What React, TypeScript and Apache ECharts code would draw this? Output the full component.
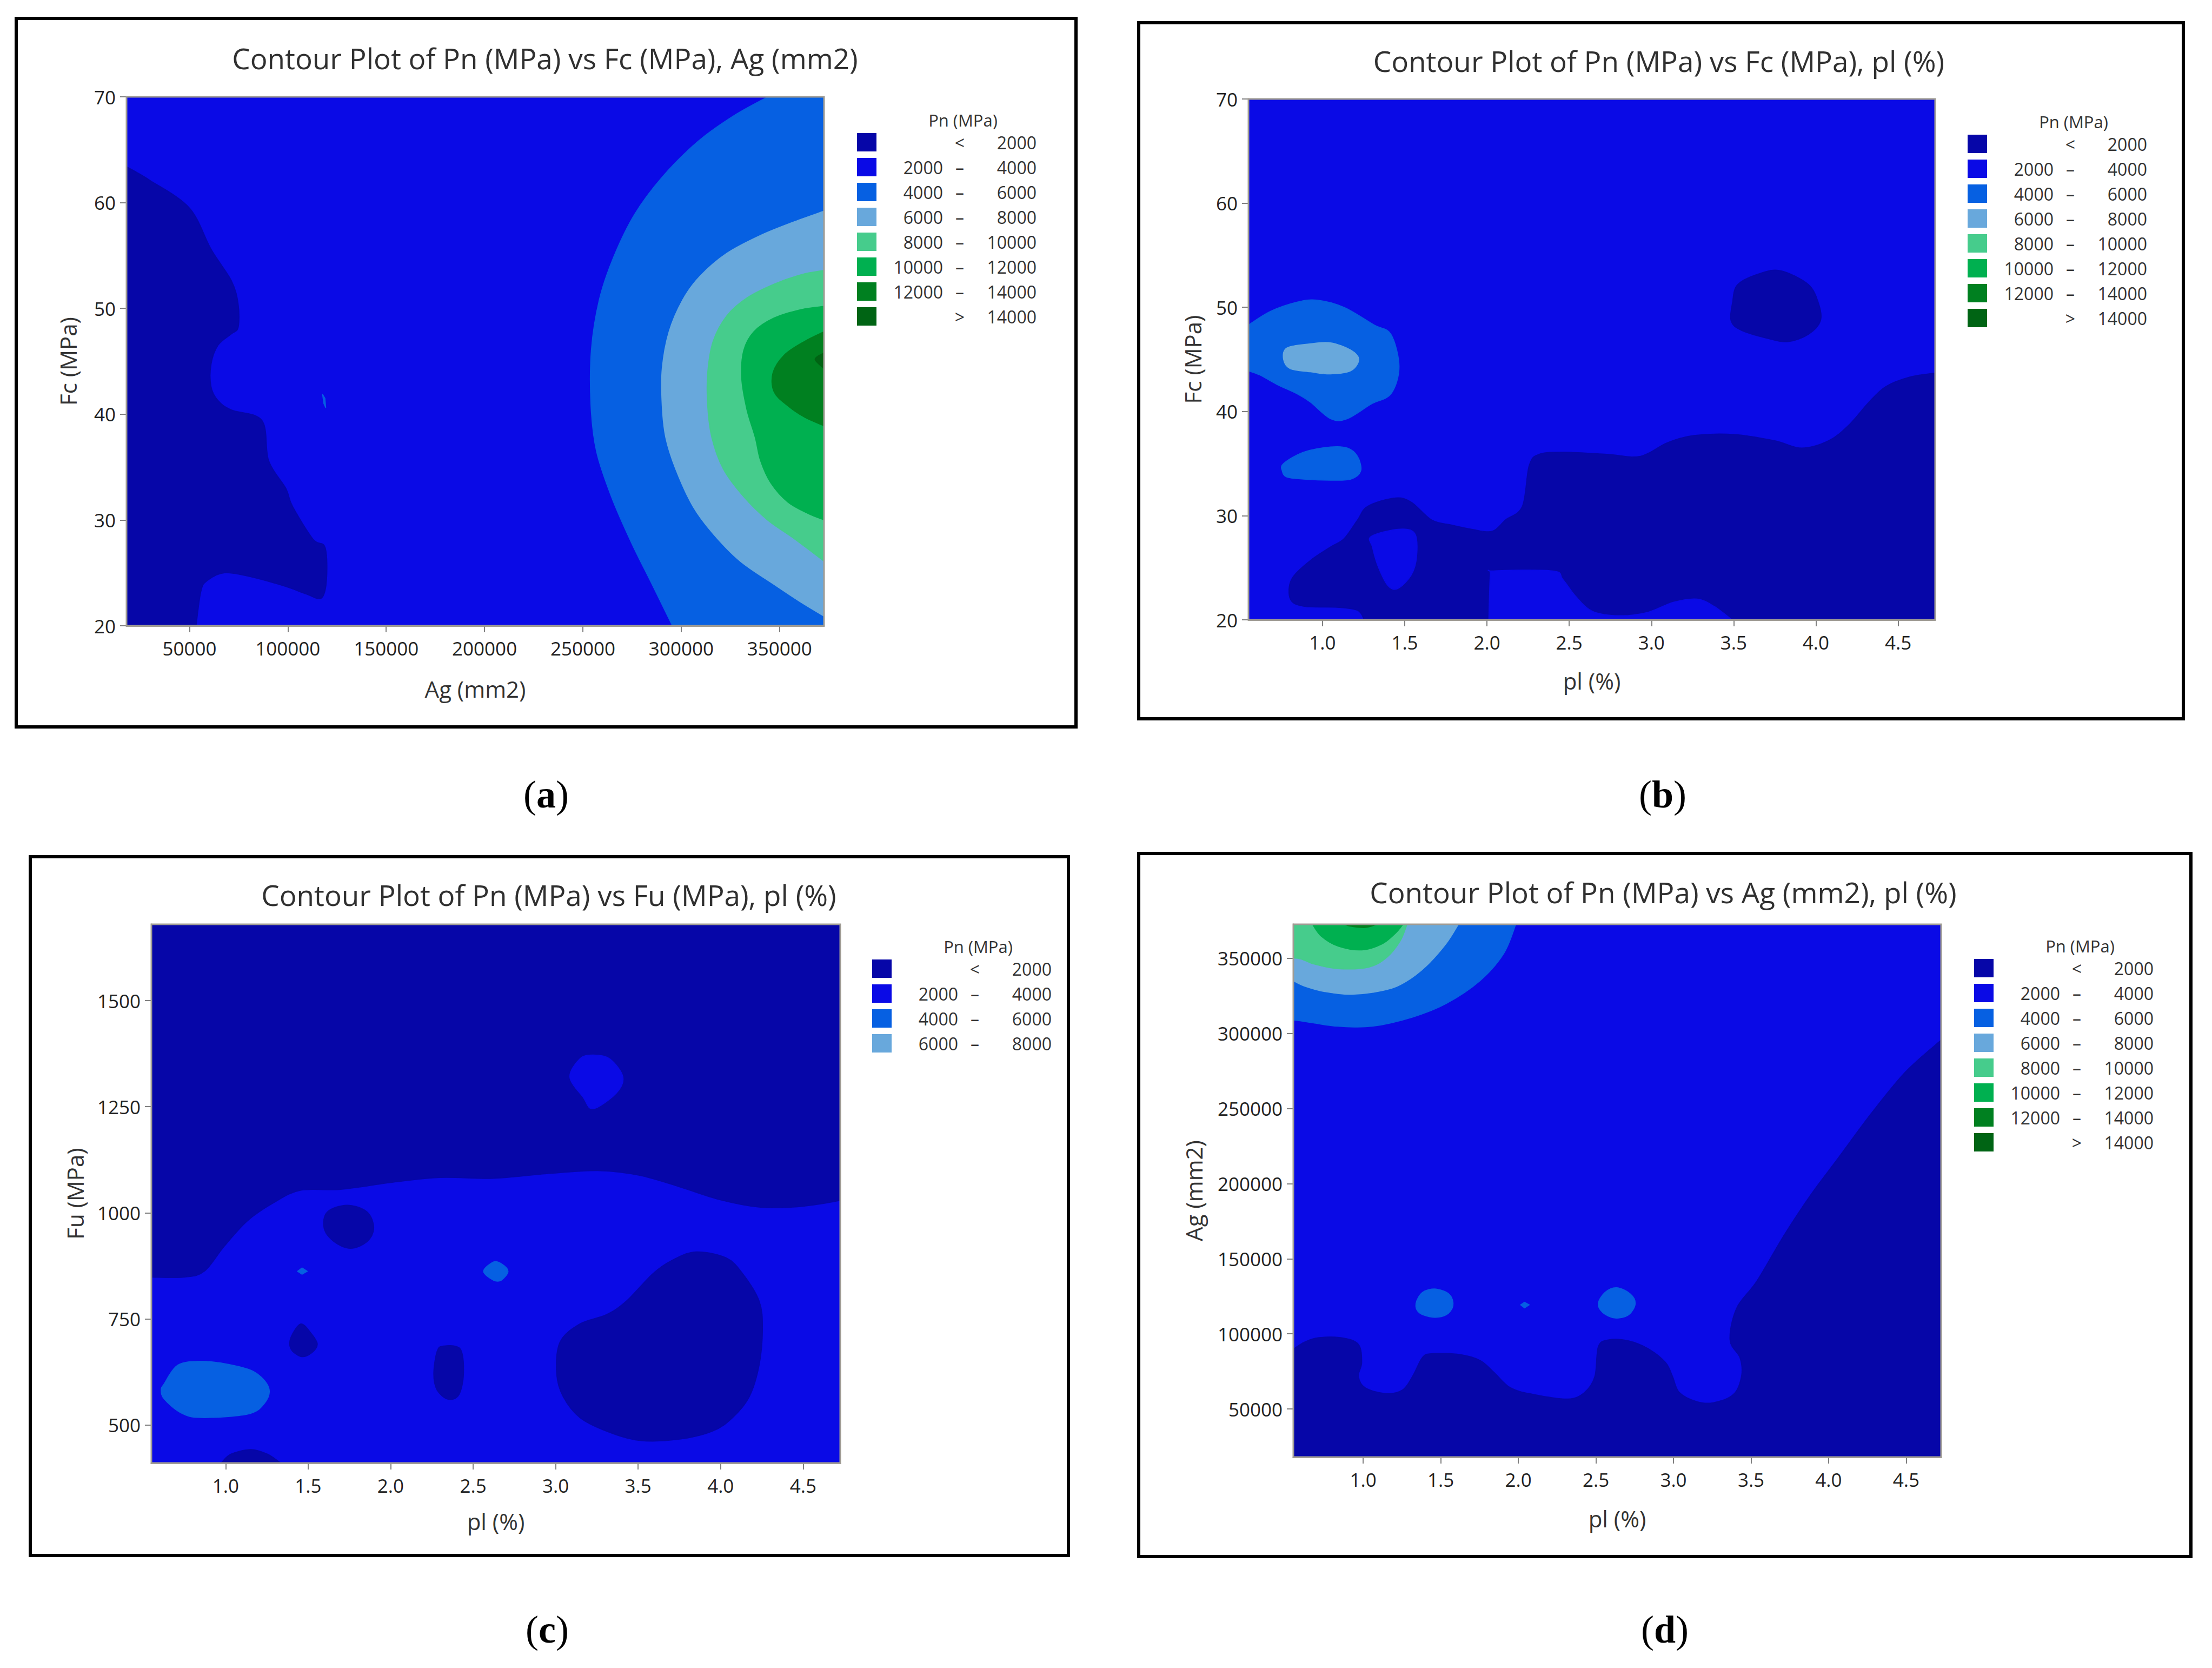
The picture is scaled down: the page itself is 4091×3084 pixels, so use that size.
import React, { useEffect, useRef } from "react";
import * as echarts from "echarts";

const FONT = "'Open Sans', 'Noto Sans', sans-serif";
const SERIF = "'Liberation Serif', 'Times New Roman', serif";

// Contour levels (Pn, MPa) and their fills
const LEVEL_BREAKS = [2000, 4000, 6000, 8000, 10000, 12000, 14000];
const LEVEL_COLORS = ["#0606A8", "#0A0AE6", "#0660E2", "#68A8DC", "#46CC8C", "#00B050", "#008020", "#006414"];

// Axis ranges
const AG_MIN = 18000, AG_MAX = 372600;
const FC_MIN = 20, FC_MAX = 70;
const PL_MIN = 0.55, PL_MAX = 4.725;
const FU_MIN = 410, FU_MAX = 1680;

// Tick values
const AG_TICKS = [50000, 100000, 150000, 200000, 250000, 300000, 350000];
const FC_TICKS = [20, 30, 40, 50, 60, 70];
const PL_TICKS = [1.0, 1.5, 2.0, 2.5, 3.0, 3.5, 4.0, 4.5];
const FU_TICKS = [500, 750, 1000, 1250, 1500];

// ---------- Panel (a): Fc vs Ag ----------
const A_L0 = [[AG_MIN, 63.4], [30000, 62.1], [50000, 59.5], [61000, 55.6], [71400, 52.6], [74800, 50.4], [74800, 48.2], [71400, 47.6], [64500, 46.5], [61000, 44.7], [61000, 42.6], [64500, 41.3], [71400, 40.4], [86900, 39.4], [90300, 35.6], [99000, 33.0], [102400, 31.3], [112800, 28.2], [119000, 27.4], [119700, 24.3], [117000, 22.6], [109300, 23.0], [99000, 23.7], [81700, 24.6], [67900, 25.0], [59300, 24.3], [55900, 23.3], [53400, FC_MIN], [AG_MIN, FC_MIN]];
const A_SPOT = [[117600, 41.9], [118900, 41.5], [119300, 40.6], [118300, 41.0]];
const A_L2 = [[344000, FC_MAX], [326600, 68.2], [308600, 65.8], [290700, 62.5], [276300, 58.9], [265500, 54.8], [258300, 50.8], [254300, 46.1], [254100, 40.8], [256900, 36.5], [264500, 32.2], [274800, 27.8], [285200, 23.9], [295500, FC_MIN], [AG_MAX, FC_MIN], [AG_MAX, FC_MAX]];
const A_L3 = [[AG_MAX, 59.2], [357600, 58.2], [340300, 56.9], [323100, 55.2], [309300, 53.0], [300700, 50.8], [293800, 47.8], [290300, 44.3], [290300, 40.8], [292100, 37.8], [297200, 34.8], [305900, 31.3], [316200, 28.7], [330000, 26.1], [347200, 23.9], [361000, 22.2], [AG_MAX, 20.9]];
const A_L4 = [[AG_MAX, 53.6], [361000, 53.2], [347200, 52.3], [333400, 51.0], [323100, 49.3], [316200, 46.9], [313400, 43.9], [313400, 40.8], [315500, 37.8], [321400, 34.8], [331700, 32.2], [343800, 30.0], [357600, 28.2], [AG_MAX, 26.1]];
const A_L5 = [[AG_MAX, 50.2], [361000, 49.9], [347200, 49.1], [336900, 47.8], [331700, 46.0], [330700, 43.4], [333400, 40.4], [337600, 37.8], [340300, 35.6], [345500, 33.5], [354100, 31.7], [364500, 30.6], [AG_MAX, 30.0]];
const A_L6 = [[AG_MAX, 47.8], [362800, 46.9], [352400, 45.6], [346600, 43.9], [347200, 42.1], [354100, 40.8], [362800, 39.7], [AG_MAX, 38.9]];
const A_L7 = [[AG_MAX, 45.8], [368000, 45.2], [AG_MAX, 44.3]];

// ---------- Panel (b): Fc vs pl ----------
const B_L0 = [[1.254, FC_MIN], [1.213, 20.9], [1.09, 21.2], [0.885, 21.3], [0.804, 22.0], [0.812, 23.9], [0.926, 25.7], [1.049, 27.0], [1.131, 27.8], [1.213, 29.6], [1.274, 30.9], [1.438, 31.7], [1.54, 31.3], [1.663, 29.6], [1.786, 29.1], [1.908, 28.7], [2.031, 28.5], [2.113, 29.6], [2.215, 30.9], [2.256, 34.8], [2.318, 35.9], [2.481, 36.1], [2.727, 35.9], [2.931, 35.7], [3.095, 37.0], [3.259, 37.7], [3.504, 37.8], [3.75, 37.2], [3.913, 36.5], [4.077, 37.2], [4.2, 38.7], [4.322, 40.9], [4.425, 42.4], [4.568, 43.3], [PL_MAX, 43.7], [PL_MAX, FC_MIN]];
const B_L1_BOTTOM = [[2.011, FC_MIN], [2.02, 24.3], [2.04, 24.7], [2.4, 24.7], [2.461, 23.9], [2.543, 22.2], [2.645, 20.8], [2.809, 20.4], [2.972, 20.7], [3.136, 21.7], [3.279, 22.0], [3.381, 21.3], [3.49, FC_MIN]];
const B_L1_HOLE = [[1.295, 28.0], [1.458, 28.7], [1.561, 28.3], [1.573, 26.1], [1.54, 24.3], [1.458, 23.0], [1.397, 23.3], [1.336, 25.2], [1.303, 27.0]];
const B_L0_BLOB = [[3.525, 52.2], [3.668, 53.3], [3.791, 53.5], [3.954, 52.2], [4.016, 50.4], [4.028, 48.7], [3.954, 47.4], [3.831, 46.7], [3.709, 47.0], [3.545, 47.8], [3.484, 48.7], [3.492, 50.4]];
const B_L2_BIG = [[PL_MIN, 48.3], [0.681, 49.6], [0.845, 50.5], [0.967, 50.7], [1.131, 50.0], [1.315, 48.3], [1.417, 47.4], [1.466, 44.3], [1.417, 41.7], [1.295, 40.7], [1.151, 39.3], [1.049, 39.3], [0.926, 40.9], [0.845, 41.7], [0.722, 42.6], [0.619, 43.5], [PL_MIN, 43.9]];
const B_L3 = [[0.763, 45.0], [0.783, 46.1], [0.926, 46.5], [1.049, 46.6], [1.172, 45.9], [1.221, 45.0], [1.172, 43.9], [1.049, 43.6], [0.926, 43.8], [0.804, 44.1]];
const B_L2_SMALL = [[0.755, 34.3], [0.763, 35.0], [0.885, 36.1], [1.049, 36.6], [1.151, 36.5], [1.213, 35.7], [1.233, 34.3], [1.172, 33.5], [1.049, 33.4], [0.885, 33.5], [0.783, 33.7]];

// ---------- Panel (c): Fu vs pl ----------
const C_L0_TOP = [[PL_MIN, 848], [0.75, 848], [0.871, 862], [0.992, 921], [1.133, 981], [1.294, 1024], [1.455, 1053], [1.697, 1055], [2.019, 1072], [2.301, 1083], [2.623, 1081], [2.945, 1092], [3.267, 1099], [3.509, 1088], [3.751, 1061], [3.992, 1031], [4.234, 1013], [4.435, 1013], [4.596, 1020], [PL_MAX, 1029], [PL_MAX, FU_MAX], [PL_MIN, FU_MAX]];
const C_L1_BLOB = [[3.086, 1320], [3.147, 1363], [3.227, 1372], [3.328, 1363], [3.408, 1320], [3.368, 1282], [3.227, 1245], [3.167, 1272]];
const C_L0_B1 = [[1.616, 1002], [1.737, 1018], [1.858, 1002], [1.898, 964], [1.858, 932], [1.757, 916], [1.656, 932], [1.596, 964]];
const C_L2_TINY = [[1.435, 862], [1.463, 870], [1.495, 862], [1.463, 855]];
const C_L2_SMALL = [[2.563, 862], [2.623, 884], [2.671, 880], [2.712, 862], [2.671, 841], [2.623, 841]];
const C_L0_B2 = [[1.395, 706], [1.455, 738], [1.516, 717], [1.556, 690], [1.516, 668], [1.455, 661], [1.395, 679]];
const C_L0_B3 = [[2.281, 673], [2.321, 686], [2.422, 679], [2.442, 620], [2.414, 571], [2.349, 560], [2.281, 582], [2.261, 620]];
const C_L0_BIG = [[3.026, 695], [3.147, 738], [3.308, 760], [3.429, 792], [3.59, 857], [3.71, 889], [3.851, 908], [4.033, 894], [4.133, 857], [4.234, 792], [4.254, 727], [4.234, 641], [4.174, 566], [4.073, 517], [3.952, 485], [3.751, 466], [3.509, 463], [3.308, 485], [3.147, 517], [3.046, 566], [3.006, 620]];
const C_L2_BIG = [[0.629, 598], [0.71, 641], [0.851, 650], [1.012, 643], [1.173, 625], [1.262, 587], [1.234, 550], [1.133, 525], [0.851, 517], [0.73, 528], [0.629, 560], [0.609, 582]];
const C_L0_BOTTOM = [[0.972, FU_MIN], [1.032, 431], [1.153, 442], [1.254, 431], [1.334, FU_MIN]];

// ---------- Panel (d): Ag vs pl ----------
const D_L0 = [[PL_MIN, 89900], [0.621, 94500], [0.708, 97500], [0.861, 97500], [0.97, 93000], [0.991, 80900], [0.97, 71800], [1.013, 64200], [1.144, 60300], [1.253, 62700], [1.318, 71800], [1.383, 84500], [1.448, 86900], [1.623, 86300], [1.753, 82400], [1.84, 74800], [1.949, 64200], [2.101, 59700], [2.319, 56700], [2.428, 61200], [2.493, 71800], [2.515, 91400], [2.58, 96000], [2.711, 95400], [2.842, 89900], [2.95, 80900], [2.994, 71800], [3.037, 61200], [3.146, 55100], [3.255, 54200], [3.386, 59700], [3.438, 71800], [3.429, 83900], [3.364, 96000], [3.407, 117200], [3.538, 135300], [3.712, 165600], [3.886, 192800], [4.061, 217000], [4.278, 247200], [4.496, 274500], [PL_MAX, 295600], [PL_MAX, AG_MIN], [PL_MIN, AG_MIN]];
const D_L2 = [[1.984, AG_MAX], [1.906, 353100], [1.753, 335000], [1.535, 319800], [1.318, 310800], [1.057, 304700], [0.839, 304700], [0.687, 306800], [PL_MIN, 309000], [PL_MIN, AG_MAX]];
const D_L3 = [[1.614, AG_MAX], [1.535, 359800], [1.405, 344700], [1.274, 334400], [1.144, 328900], [0.926, 326000], [0.752, 327800], [0.621, 331500], [PL_MIN, 335000], [PL_MIN, AG_MAX]];
const D_L4 = [[1.283, AG_MAX], [1.239, 361500], [1.152, 350500], [1.035, 344000], [0.839, 343000], [0.687, 346000], [0.599, 349500], [PL_MIN, 350100], [PL_MIN, AG_MAX]];
const D_L5 = [[0.673, AG_MAX], [0.73, 364600], [0.839, 358000], [0.991, 355500], [1.122, 359500], [1.209, 366700], [1.257, AG_MAX]];
const D_L6 = [[0.882, AG_MAX], [0.917, 371300], [1.013, 370400], [1.091, AG_MAX]];
const D_L2_B1 = [[1.34, 120200], [1.383, 127700], [1.47, 129900], [1.557, 126200], [1.579, 118700], [1.535, 112600], [1.448, 111100], [1.361, 114100]];
const D_L2_B2 = [[2.515, 120200], [2.559, 127700], [2.633, 130800], [2.72, 126800], [2.754, 120200], [2.711, 112600], [2.624, 110500], [2.545, 114100]];
const D_L2_TINY = [[2.014, 119300], [2.04, 121100], [2.071, 119300], [2.04, 117200]];

function rect(x0: number, x1: number, y0: number, y1: number) {
  return [[x0, y0], [x1, y0], [x1, y1], [x0, y1]];
}

// kind: "poly" = straight polygon, "blob" = closed smooth curve,
// number n = open smooth curve, its last n points joined by straight edges along the frame
type Layer = { lv: number; pts: number[][]; kind: "poly" | "blob" | number };

const A_LAYERS: Layer[] = [
  { lv: 1, pts: rect(AG_MIN, AG_MAX, FC_MIN, FC_MAX), kind: "poly" },
  { lv: 0, pts: A_L0, kind: 1 },
  { lv: 2, pts: A_SPOT, kind: "poly" },
  { lv: 2, pts: A_L2, kind: 2 },
  { lv: 3, pts: A_L3, kind: 0 },
  { lv: 4, pts: A_L4, kind: 0 },
  { lv: 5, pts: A_L5, kind: 0 },
  { lv: 6, pts: A_L6, kind: 0 },
  { lv: 7, pts: A_L7, kind: 0 },
];
const B_LAYERS: Layer[] = [
  { lv: 1, pts: rect(PL_MIN, PL_MAX, FC_MIN, FC_MAX), kind: "poly" },
  { lv: 0, pts: B_L0, kind: 1 },
  { lv: 1, pts: B_L1_BOTTOM, kind: 0 },
  { lv: 1, pts: B_L1_HOLE, kind: "blob" },
  { lv: 0, pts: B_L0_BLOB, kind: "blob" },
  { lv: 2, pts: B_L2_BIG, kind: 0 },
  { lv: 3, pts: B_L3, kind: "blob" },
  { lv: 2, pts: B_L2_SMALL, kind: "blob" },
];
const C_LAYERS: Layer[] = [
  { lv: 1, pts: rect(PL_MIN, PL_MAX, FU_MIN, FU_MAX), kind: "poly" },
  { lv: 0, pts: C_L0_TOP, kind: 2 },
  { lv: 1, pts: C_L1_BLOB, kind: "blob" },
  { lv: 0, pts: C_L0_B1, kind: "blob" },
  { lv: 2, pts: C_L2_TINY, kind: "poly" },
  { lv: 2, pts: C_L2_SMALL, kind: "blob" },
  { lv: 0, pts: C_L0_B2, kind: "blob" },
  { lv: 0, pts: C_L0_B3, kind: "blob" },
  { lv: 0, pts: C_L0_BIG, kind: "blob" },
  { lv: 2, pts: C_L2_BIG, kind: "blob" },
  { lv: 0, pts: C_L0_BOTTOM, kind: 0 },
];
const D_LAYERS: Layer[] = [
  { lv: 1, pts: rect(PL_MIN, PL_MAX, AG_MIN, AG_MAX), kind: "poly" },
  { lv: 0, pts: D_L0, kind: 2 },
  { lv: 2, pts: D_L2, kind: 1 },
  { lv: 3, pts: D_L3, kind: 1 },
  { lv: 4, pts: D_L4, kind: 1 },
  { lv: 5, pts: D_L5, kind: 0 },
  { lv: 6, pts: D_L6, kind: 0 },
  { lv: 2, pts: D_L2_B1, kind: "blob" },
  { lv: 2, pts: D_L2_B2, kind: "blob" },
  { lv: 2, pts: D_L2_TINY, kind: "poly" },
];

const fmtInt = (v: number) => String(Math.round(v));
const fmt1 = (v: number) => v.toFixed(1);

const PANELS = [
  {
    letter: "a", title: "Contour Plot of Pn (MPa) vs Fc (MPa), Ag (mm2)",
    grid: { left: 234, top: 179, width: 1290, height: 978 }, box: [30, 34, 1960, 1310],
    titlePos: [1008, 107], caption: [1010, 1469], legend: [1585, 246], nLevels: 8,
    x: { name: "Ag (mm2)", min: AG_MIN, max: AG_MAX, ticks: AG_TICKS, fmt: fmtInt, gap: 95 },
    y: { name: "Fc (MPa)", min: FC_MIN, max: FC_MAX, ticks: FC_TICKS, fmt: fmtInt, gap: 88 },
    layers: A_LAYERS,
  },
  {
    letter: "b", title: "Contour Plot of Pn (MPa) vs Fc (MPa), pl (%)",
    grid: { left: 2309, top: 183, width: 1270, height: 963 }, box: [2106, 42, 1932, 1287],
    titlePos: [3068, 112], caption: [3075, 1469], legend: [3639, 249], nLevels: 8,
    x: { name: "pl (%)", min: PL_MIN, max: PL_MAX, ticks: PL_TICKS, fmt: fmt1, gap: 91 },
    y: { name: "Fc (MPa)", min: FC_MIN, max: FC_MAX, ticks: FC_TICKS, fmt: fmtInt, gap: 83 },
    layers: B_LAYERS,
  },
  {
    letter: "c", title: "Contour Plot of Pn (MPa) vs Fu (MPa), pl (%)",
    grid: { left: 280, top: 1709, width: 1274, height: 996 }, box: [56, 1584, 1920, 1292],
    titlePos: [1015, 1654], caption: [1012, 3013], legend: [1613, 1774], nLevels: 4,
    x: { name: "pl (%)", min: PL_MIN, max: PL_MAX, ticks: PL_TICKS, fmt: fmt1, gap: 86 },
    y: { name: "Fu (MPa)", min: FU_MIN, max: FU_MAX, ticks: FU_TICKS, fmt: fmtInt, gap: 121 },
    layers: C_LAYERS,
  },
  {
    letter: "d", title: "Contour Plot of Pn (MPa) vs Ag (mm2), pl (%)",
    grid: { left: 2392, top: 1709, width: 1198, height: 985 }, box: [2106, 1578, 1946, 1300],
    titlePos: [3076, 1649], caption: [3079, 3013], legend: [3651, 1773], nLevels: 8,
    x: { name: "pl (%)", min: PL_MIN, max: PL_MAX, ticks: PL_TICKS, fmt: fmt1, gap: 92 },
    y: { name: "Ag (mm2)", min: AG_MIN, max: AG_MAX, ticks: AG_TICKS, fmt: fmtInt, gap: 164 },
    layers: D_LAYERS,
  },
];

// Catmull-Rom spline through pixel points -> cubic Bezier path commands
function splinePath(p: number[][], closed: boolean) {
  const n = p.length;
  const get = (i: number) => {
    if (closed) return p[((i % n) + n) % n];
    return p[Math.max(0, Math.min(n - 1, i))];
  };
  let d = "M" + p[0][0].toFixed(2) + "," + p[0][1].toFixed(2);
  const segs = closed ? n : n - 1;
  for (let i = 0; i < segs; i++) {
    const p0 = get(i - 1), p1 = get(i), p2 = get(i + 1), p3 = get(i + 2);
    const c1x = p1[0] + (p2[0] - p0[0]) / 6, c1y = p1[1] + (p2[1] - p0[1]) / 6;
    const c2x = p2[0] - (p3[0] - p1[0]) / 6, c2y = p2[1] - (p3[1] - p1[1]) / 6;
    d += "C" + c1x.toFixed(2) + "," + c1y.toFixed(2) + " " + c2x.toFixed(2) + "," + c2y.toFixed(2) + " " + p2[0].toFixed(2) + "," + p2[1].toFixed(2);
  }
  return d;
}

function layerPath(px: number[][], kind: "poly" | "blob" | number) {
  if (kind === "poly") {
    return px.map((q, i) => (i ? "L" : "M") + q[0].toFixed(2) + "," + q[1].toFixed(2)).join("") + "Z";
  }
  if (kind === "blob") return splinePath(px, true) + "Z";
  const k = kind as number;
  const curve = px.slice(0, px.length - k);
  const rest = px.slice(px.length - k);
  return splinePath(curve, false) + rest.map((q) => "L" + q[0].toFixed(2) + "," + q[1].toFixed(2)).join("") + "Z";
}

function legendLabels(i: number) {
  if (i === 0) return ["", "<", String(LEVEL_BREAKS[0])];
  if (i === LEVEL_BREAKS.length) return ["", ">", String(LEVEL_BREAKS[i - 1])];
  return [String(LEVEL_BREAKS[i - 1]), "–", String(LEVEL_BREAKS[i])];
}

function txt(x: number, y: number, text: string, size: number, align: string, extra: any = {}) {
  return {
    type: "text", x, y, silent: true, z: 50,
    style: {
      text, fontSize: size, fontFamily: FONT, fill: "#333",
      align, verticalAlign: "middle", textAlign: align, textVerticalAlign: "middle",
      ...extra,
    },
  };
}

function buildOption() {
  const grids: any[] = [];
  const xAxes: any[] = [];
  const yAxes: any[] = [];
  const series: any[] = [];
  const graphics: any[] = [];

  PANELS.forEach((p, k) => {
    grids.push({ ...p.grid, show: false, containLabel: false, outerBoundsMode: "none" });
    const axisCommon = (a: any) => ({
      type: "value", gridIndex: k, min: a.min, max: a.max,
      name: a.name, nameLocation: "middle", nameGap: a.gap,
      nameTextStyle: { fontSize: 42, color: "#333", fontFamily: FONT },
      axisLine: { show: true, lineStyle: { color: "#a09c94", width: 3 } },
      axisTick: { show: true, length: 12, customValues: a.ticks, lineStyle: { color: "#808080", width: 2 } },
      axisLabel: { show: true, customValues: a.ticks, formatter: a.fmt, fontSize: 35, color: "#222", fontFamily: FONT },
      splitLine: { show: false },
    });
    const xa: any = axisCommon(p.x);
    xa.axisLabel.margin = 24;
    xAxes.push(xa);
    const ya: any = axisCommon(p.y);
    ya.axisLabel.margin = 20;
    yAxes.push(ya);

    const layers = p.layers;
    series.push({
      type: "custom", xAxisIndex: k, yAxisIndex: k, clip: true, silent: true, animation: false,
      data: layers.map((l, i) => [l.pts[0][0], l.pts[0][1], i]),
      encode: { x: 0, y: 1 },
      renderItem: (params: any, api: any) => {
        const l = layers[api.value(2)];
        const px = l.pts.map((pt) => api.coord(pt));
        const c = LEVEL_COLORS[l.lv];
        return {
          type: "path",
          shape: { pathData: layerPath(px, l.kind) },
          style: { fill: c, stroke: c, lineWidth: 1.5 },
        };
      },
    });

    // plot frame
    graphics.push({
      type: "rect", z: 60, silent: true,
      shape: { x: p.grid.left, y: p.grid.top, width: p.grid.width, height: p.grid.height },
      style: { fill: "none", stroke: "#a09c94", lineWidth: 3 },
    });
    // outer panel box
    graphics.push({
      type: "rect", z: 60, silent: true,
      shape: { x: p.box[0], y: p.box[1], width: p.box[2], height: p.box[3] },
      style: { fill: "none", stroke: "#000", lineWidth: 6 },
    });
    // title
    graphics.push(txt(p.titlePos[0], p.titlePos[1], p.title, 53, "center", { fill: "#303030" }));
    // legend
    const [sx, sy] = p.legend;
    graphics.push(txt(sx + 196, sy - 24, "Pn (MPa)", 31, "center"));
    for (let i = 0; i < p.nLevels; i++) {
      const top = sy + i * 46;
      graphics.push({
        type: "rect", z: 50, silent: true,
        shape: { x: sx, y: top, width: 36, height: 34 },
        style: { fill: LEVEL_COLORS[i] },
      });
      const [l, m, r] = legendLabels(i);
      const cy = top + 17;
      if (l) graphics.push(txt(sx + 159, cy, l, 32, "right"));
      graphics.push(txt(sx + 190, cy, m, 32, "center"));
      graphics.push(txt(sx + 332, cy, r, 32, "right"));
    }
    // caption
    graphics.push({
      type: "text", x: p.caption[0], y: p.caption[1], silent: true, z: 50,
      style: {
        text: "{p|(}{b|" + p.letter + "}{p|)}",
        align: "center", verticalAlign: "middle", textAlign: "center", textVerticalAlign: "middle",
        rich: {
          p: { fontSize: 72, fontFamily: SERIF, fill: "#000", color: "#000" },
          b: { fontSize: 72, fontFamily: SERIF, fontWeight: "bold", fill: "#000", color: "#000" },
        },
      },
    });
  });

  return {
    animation: false,
    backgroundColor: "#ffffff",
    grid: grids,
    xAxis: xAxes,
    yAxis: yAxes,
    series,
    graphic: { elements: graphics },
  };
}

export default function App() {
  const ref = useRef<HTMLDivElement>(null);
  useEffect(() => {
    document.body.style.margin = "0";
    if (!ref.current) return;
    const chart = echarts.init(ref.current, undefined, { renderer: "svg" });
    chart.setOption(buildOption() as any);
    return () => chart.dispose();
  }, []);
  return <div ref={ref} style={{ width: 4091, height: 3084, background: "#fff" }} />;
}
